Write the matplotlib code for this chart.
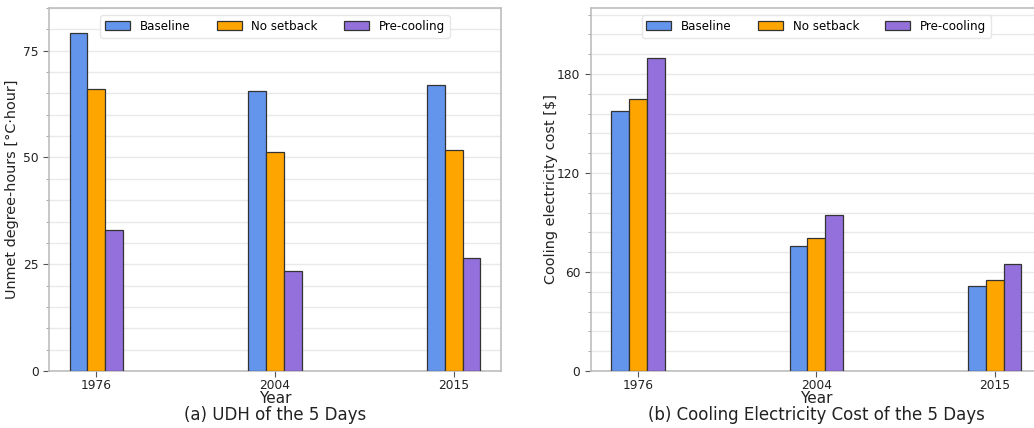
import numpy as np
import matplotlib
matplotlib.use("Agg")
from matplotlib import pyplot as plt
from matplotlib.ticker import MultipleLocator

years = ["1976", "2004", "2015"]
series_names = ["Baseline", "No setback", "Pre-cooling"]
colours = ["cornflowerblue", "orange", "mediumpurple"]

udh_baseline = [79.1, 65.5, 67.0]
udh_no_setback = [66.1, 51.3, 51.8]
udh_precooling = [33.1, 23.5, 26.5]

cost_baseline = [157.8, 75.8, 51.5]
cost_no_setback = [164.7, 80.4, 55.2]
cost_precooling = [189.7, 94.5, 64.7]

spine_grey = "#bdbdbd"
grid_grey = "#e9e9e9"


def draw_groups(ax, groups, ylim, major, minor, ylabel, ylabel_x, caption):
    x = np.arange(len(years))
    width = 0.1
    for i, (vals, name, col) in enumerate(zip(groups, series_names, colours)):
        ax.bar(x + (i - 1) * width, vals, width, color=col, edgecolor="#333333",
               linewidth=0.9, label=name, zorder=3)

    ax.set_xticks(x)
    ax.set_xticklabels(years)
    ax.set_ylim(*ylim)
    ax.yaxis.set_major_locator(MultipleLocator(major))
    ax.yaxis.set_minor_locator(MultipleLocator(minor))
    ax.grid(which="both", axis="y", color=grid_grey, linewidth=1.0, zorder=0)
    ax.set_axisbelow(True)

    for s in ax.spines.values():
        s.set_color(spine_grey)
        s.set_linewidth(1.2)
    ax.tick_params(axis="both", which="major", labelsize=8.8, colors="#555555",
                   labelcolor="#222222", length=4)
    ax.tick_params(axis="y", which="minor", colors="#999999", length=2)
    ax.tick_params(axis="x", pad=2)

    ax.set_ylabel(ylabel, fontsize=10.4, color="#222222")
    ax.yaxis.set_label_coords(ylabel_x, 0.5)
    ax.set_xlabel("Year", fontsize=11, color="#222222")
    ax.xaxis.set_label_coords(0.5, -0.055)
    ax.text(0.5, -0.121, caption, transform=ax.transAxes, ha="center", va="center",
            fontsize=12, color="#222222")

    leg = ax.legend(loc="upper center", ncol=3, fontsize=8.6, frameon=True,
                    handlelength=2.1, handleheight=0.75, handletextpad=0.8,
                    columnspacing=2.2, borderaxespad=0.6, fancybox=True,
                    framealpha=1.0)
    leg.get_frame().set_edgecolor("#e6e6e6")


fig = plt.figure(figsize=(10.34, 4.28), dpi=100)
ax1 = fig.add_axes([0.0474, 0.1332, 0.4371, 0.8481])
ax2 = fig.add_axes([0.5713, 0.1332, 0.4363, 0.8481])

draw_groups(ax1, [udh_baseline, udh_no_setback, udh_precooling], (0, 85), 25, 5,
            "Unmet degree-hours [°C·hour]", -0.066, "(a) UDH of the 5 Days")
draw_groups(ax2, [cost_baseline, cost_no_setback, cost_precooling], (0, 220), 60, 12,
            "Cooling electricity cost [$]", -0.0725,
            "(b) Cooling Electricity Cost of the 5 Days")

fig.savefig("out.png", dpi=100, facecolor="white")
